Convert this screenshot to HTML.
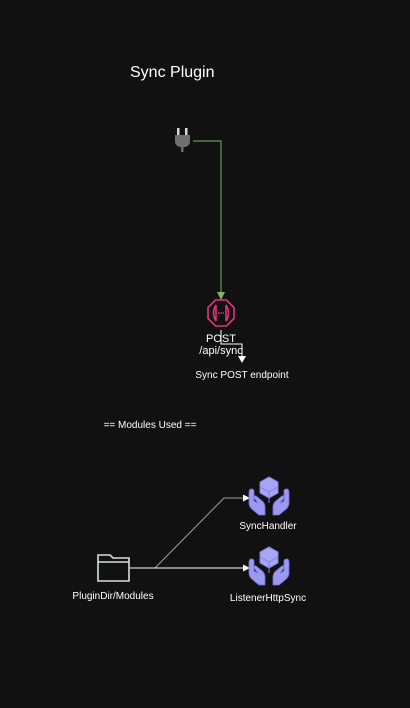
<!DOCTYPE html>
<html><head><meta charset="utf-8"><style>
html,body{margin:0;padding:0;background:#111111;}
body{width:410px;height:703px;overflow:hidden;}
text{font-family:"Liberation Sans",sans-serif;fill:#ffffff;}
</style></head><body>
<svg width="410" height="703" viewBox="0 0 410 703" xmlns="http://www.w3.org/2000/svg">
<rect width="410" height="703" fill="#111111"/>
<text x="130" y="77" font-size="16">Sync Plugin</text>

<!-- plug icon -->
<g fill="#707070">
<rect x="177" y="128" width="2.5" height="7" fill="#d8d8d8"/>
<rect x="185" y="128" width="2.5" height="7" fill="#d8d8d8"/>
<path d="M175 135 H190 V141 Q190 146 185 147 H180 Q175 146 175 141 Z"/>
<rect x="181" y="147" width="2.5" height="5"/>
</g>
<!-- green connector -->
<polyline points="193,141 221,141 221,294" fill="none" stroke="#82b366" stroke-width="1"/>
<path d="M217,292 L225,292 L221,300 Z" fill="#82b366"/>

<!-- octagon -->
<g fill="none" stroke="#e0357a" stroke-width="1.6">
<polygon points="215.5,300 226.5,300 234,307.5 234,318.5 226.5,326 215.5,326 208,318.5 208,307.5"/>
<path d="M216,305 Q211,313 216,321 M226,305 Q231,313 226,321 M216,305 V321 M226,305 V321"/>
<line x1="218" y1="313" x2="224" y2="313" stroke-dasharray="1.5 1"/>
</g>
<text x="221" y="342" font-size="11" text-anchor="middle">POST</text>
<text x="221" y="354" font-size="11" text-anchor="middle">/api/sync</text>
<polyline points="221,330 221,344 242,344 242,358" fill="none" stroke="#ffffff" stroke-width="1"/>
<path d="M238,356 L246,356 L242,363 Z" fill="#ffffff"/>
<text x="242" y="378" font-size="10" text-anchor="middle">Sync POST endpoint</text>

<text x="150" y="428" font-size="10" text-anchor="middle">== Modules Used ==</text>

<!-- folder -->
<g fill="none" stroke="#d8dde6" stroke-width="1.6">
<path d="M98,555 H110 L113,558 H129 V581 H98 Z"/>
<line x1="98" y1="562" x2="129" y2="562"/>
</g>
<text x="113" y="599" font-size="10" text-anchor="middle">PluginDir/Modules</text>

<!-- connectors -->
<polyline points="130,568 155,568 224,498 244,498" fill="none" stroke="#a0a0a0" stroke-width="1"/>
<path d="M243,494.5 L250,498 L243,501.5 Z" fill="#ffffff"/>
<polyline points="130,568 244,568" fill="none" stroke="#ffffff" stroke-width="1"/>
<path d="M243,564.5 L250,568 L243,571.5 Z" fill="#ffffff"/>

<!-- hands icons -->
<defs>
<g id="hands">
<path d="M0,0 L9,-5 L18,0 L18,11 L9,16 L0,11 Z" fill="#a6a6f5" stroke="#8080e0" stroke-width="1" transform="translate(11,1)"/>
<path d="M11,6 L20,11 L29,6 M20,11 V22" fill="none" stroke="#8080e0" stroke-width="1"/>
<path d="M2,8 Q0,8 0,12 V22 Q0,26 4,29 L10,34 H16 V26 Q16,22 12,19 L7,15 Q5,14 5,17 L9,22 L5,20 V10 Q5,8 2,8 Z" fill="#9a9af0" stroke="#7070d8" stroke-width="0.8"/>
<path d="M38,8 Q40,8 40,12 V22 Q40,26 36,29 L30,34 H24 V26 Q24,22 28,19 L33,15 Q35,14 35,17 L31,22 L35,20 V10 Q35,8 38,8 Z" fill="#9a9af0" stroke="#7070d8" stroke-width="0.8"/>
</g>
</defs>
<use href="#hands" x="249" y="481"/>
<use href="#hands" x="249" y="551"/>
<text x="268" y="529" font-size="10" text-anchor="middle">SyncHandler</text>
<text x="268" y="601" font-size="10" text-anchor="middle">ListenerHttpSync</text>
</svg>
</body></html>
